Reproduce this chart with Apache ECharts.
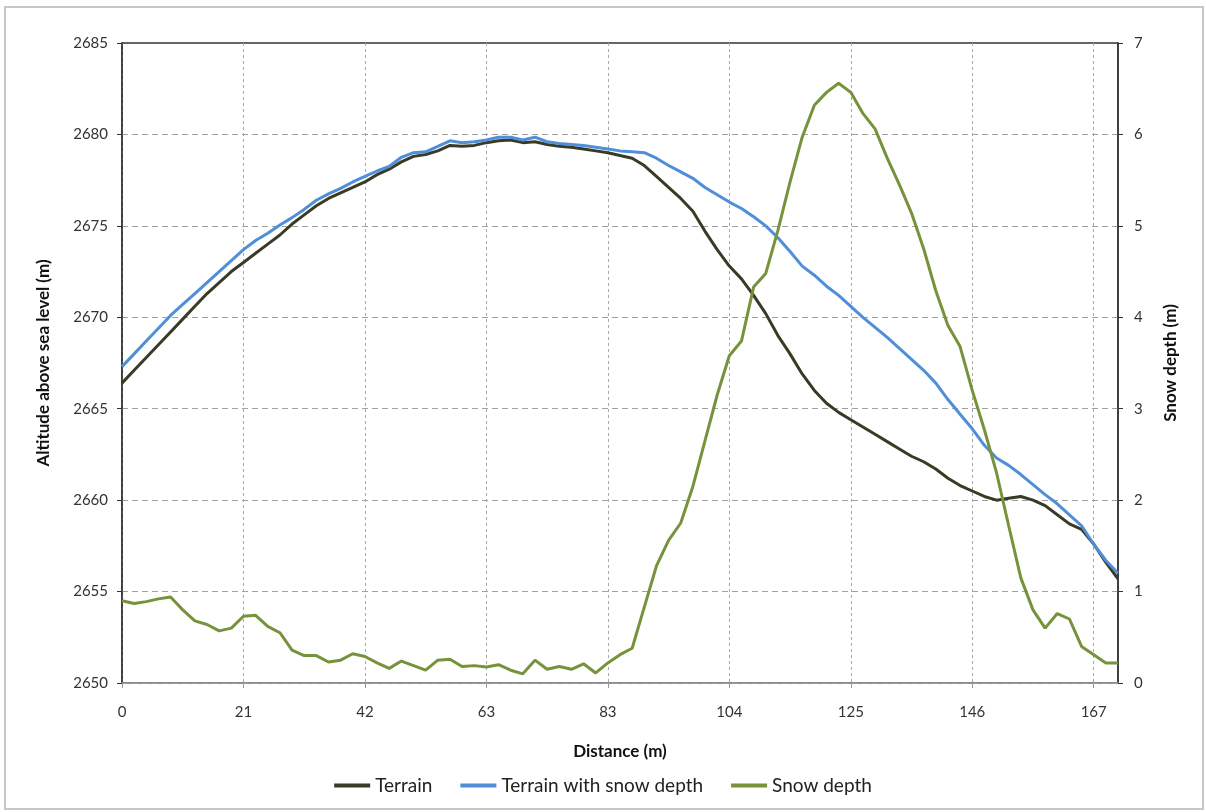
<!DOCTYPE html>
<html>
<head>
<meta charset="utf-8">
<script src="https://cdn.jsdelivr.net/npm/echarts@6/dist/echarts.min.js"></script>
<style>
html, body { margin: 0; padding: 0; background: #fff; }
#chart { width: 1206px; height: 812px; }
</style>
</head>
<body>
<div id="chart"></div>
<script>
// distance between samples along the profile (m)
const STEP = 2.087

const terrain = [
    2666.4, 2667.1, 2667.8, 2668.5, 2669.2, 2669.9, 2670.6, 2671.3, 2671.9, 2672.5,
    2673.0, 2673.5, 2674.0, 2674.5, 2675.1, 2675.6, 2676.1, 2676.5, 2676.8, 2677.1,
    2677.4, 2677.8, 2678.1, 2678.5, 2678.8, 2678.9, 2679.1, 2679.4, 2679.35, 2679.4,
    2679.55, 2679.65, 2679.7, 2679.55, 2679.6, 2679.45, 2679.35, 2679.3, 2679.2, 2679.1,
    2679.0, 2678.85, 2678.7, 2678.3, 2677.7, 2677.1, 2676.5, 2675.8, 2674.7, 2673.7,
    2672.8, 2672.1, 2671.2, 2670.2, 2669.0, 2668.0, 2666.9, 2666.0, 2665.3, 2664.8,
    2664.4, 2664.0, 2663.6, 2663.2, 2662.8, 2662.4, 2662.1, 2661.7, 2661.2, 2660.8,
    2660.5, 2660.2, 2660.0, 2660.1, 2660.2, 2660.0, 2659.7, 2659.2, 2658.7, 2658.4,
    2657.6, 2656.6, 2655.7
]

const terrainSnow = [
    2667.3, 2668.0, 2668.7, 2669.4, 2670.1, 2670.7, 2671.3, 2671.9, 2672.5, 2673.1,
    2673.7, 2674.2, 2674.6, 2675.05, 2675.45, 2675.9, 2676.4, 2676.75, 2677.05, 2677.4,
    2677.7, 2678.0, 2678.25, 2678.75, 2679.0, 2679.05, 2679.35, 2679.65, 2679.55, 2679.6,
    2679.7, 2679.85, 2679.85, 2679.7, 2679.85, 2679.6, 2679.5, 2679.45, 2679.4, 2679.3,
    2679.2, 2679.1, 2679.05, 2679.0, 2678.7, 2678.3, 2677.95, 2677.6, 2677.1, 2676.7,
    2676.3, 2675.95, 2675.5, 2675.0, 2674.35, 2673.6, 2672.8, 2672.3, 2671.7, 2671.2,
    2670.6, 2670.0, 2669.45, 2668.9, 2668.3, 2667.7, 2667.1, 2666.4, 2665.5, 2664.7,
    2663.9, 2663.0, 2662.3, 2661.9, 2661.4, 2660.85, 2660.3, 2659.8, 2659.2, 2658.6,
    2657.6, 2656.7, 2656.0
]

const snowDepth = [
    0.90, 0.87, 0.89, 0.92, 0.94, 0.80, 0.68, 0.64, 0.57, 0.60,
    0.73, 0.74, 0.62, 0.55, 0.36, 0.30, 0.30, 0.23, 0.25, 0.32,
    0.29, 0.22, 0.16, 0.24, 0.19, 0.14, 0.25, 0.26, 0.18, 0.19,
    0.175, 0.20, 0.14, 0.10, 0.25, 0.15, 0.18, 0.15, 0.21, 0.11,
    0.22, 0.31, 0.38, 0.83, 1.28, 1.56, 1.75, 2.15, 2.65, 3.15,
    3.58, 3.74, 4.33, 4.48, 4.95, 5.48, 5.97, 6.32, 6.46, 6.56,
    6.46, 6.23, 6.06, 5.74, 5.45, 5.14, 4.75, 4.29, 3.91, 3.68,
    3.20, 2.77, 2.30, 1.72, 1.15, 0.80, 0.60, 0.76, 0.70, 0.40,
    0.31, 0.22, 0.22
]

const distance = terrain.map((_, i) => (i * STEP).toFixed(2))

const FONT = 'Lato, "Open Sans", sans-serif'

let myChart = echarts.init(document.getElementById('chart'))
let option = {
    backgroundColor: '#fff',
    textStyle: { fontFamily: FONT },
    graphic: [{
        type: 'rect',
        shape: { x: 5, y: 7, width: 1198, height: 802 },
        style: { fill: 'none', stroke: '#c6c6c6', lineWidth: 2 },
        silent: true
    }],
    grid: {
        left: 122, right: 88, top: 43, bottom: 129,
        show: true, borderColor: '#333', borderWidth: 1.5
    },
    legend: {
        bottom: 12,
        left: 'center',
        icon: 'rect',
        itemWidth: 36,
        itemHeight: 4,
        itemGap: 28,
        textStyle: { fontSize: 19, color: '#222', fontFamily: FONT },
        data: ['Terrain', 'Terrain with snow depth', 'Snow depth']
    },
    xAxis: {
        type: 'category',
        data: distance,
        boundaryGap: false,
        name: 'Distance (m)',
        nameLocation: 'middle',
        nameGap: 60,
        nameTextStyle: { fontSize: 17, fontWeight: 'bold', color: '#111' },
        axisLine: { lineStyle: { color: '#9a9a9a', width: 1.5 } },
        axisTick: { show: true, interval: 9, length: 5, lineStyle: { color: '#9a9a9a' } },
        axisLabel: {
            interval: 9,
            margin: 22,
            fontSize: 15,
            color: '#333',
            formatter: v => Math.round(+v)
        },
        splitLine: {
            show: true,
            interval: 9,
            lineStyle: { type: [3, 3], color: '#a8a8a8', width: 1 }
        }
    },
    yAxis: [{
        type: 'value',
        min: 2650, max: 2685, interval: 5,
        name: 'Altitude above sea level (m)',
        nameLocation: 'middle',
        nameGap: 70,
        nameTextStyle: { fontSize: 17, fontWeight: 'bold', color: '#111' },
        axisLine: { show: true, lineStyle: { color: '#333', width: 1.5 } },
        axisTick: { show: true, length: 5, lineStyle: { color: '#333' } },
        axisLabel: { fontSize: 15, color: '#333', margin: 14, formatter: v => String(v) },
        splitLine: {
            show: true, showMaxLine: false,
            lineStyle: { type: [6, 4], color: '#a0a0a0', width: 1 }
        }
    }, {
        type: 'value',
        min: 0, max: 7, interval: 1,
        name: 'Snow depth (m)',
        nameLocation: 'middle',
        nameGap: 44,
        nameTextStyle: { fontSize: 17, fontWeight: 'bold', color: '#111' },
        axisLine: { show: true, lineStyle: { color: '#333', width: 1.5 } },
        axisTick: { show: true, length: 5, lineStyle: { color: '#333' } },
        axisLabel: { fontSize: 15, color: '#333', margin: 16 },
        splitLine: { show: false }
    }],
    series: [{
        name: 'Terrain',
        type: 'line',
        data: terrain,
        yAxisIndex: 0,
        symbol: 'none',
        lineStyle: { color: '#3b3a26', width: 3 },
        itemStyle: { color: '#3b3a26' }
    }, {
        name: 'Terrain with snow depth',
        type: 'line',
        data: terrainSnow,
        yAxisIndex: 0,
        symbol: 'none',
        lineStyle: { color: '#4f8fd9', width: 3 },
        itemStyle: { color: '#4f8fd9' }
    }, {
        name: 'Snow depth',
        type: 'line',
        data: snowDepth,
        yAxisIndex: 1,
        symbol: 'none',
        lineStyle: { color: '#76933c', width: 3 },
        itemStyle: { color: '#76933c' }
    }]
}
myChart.setOption(option)
</script>
</body>
</html>
